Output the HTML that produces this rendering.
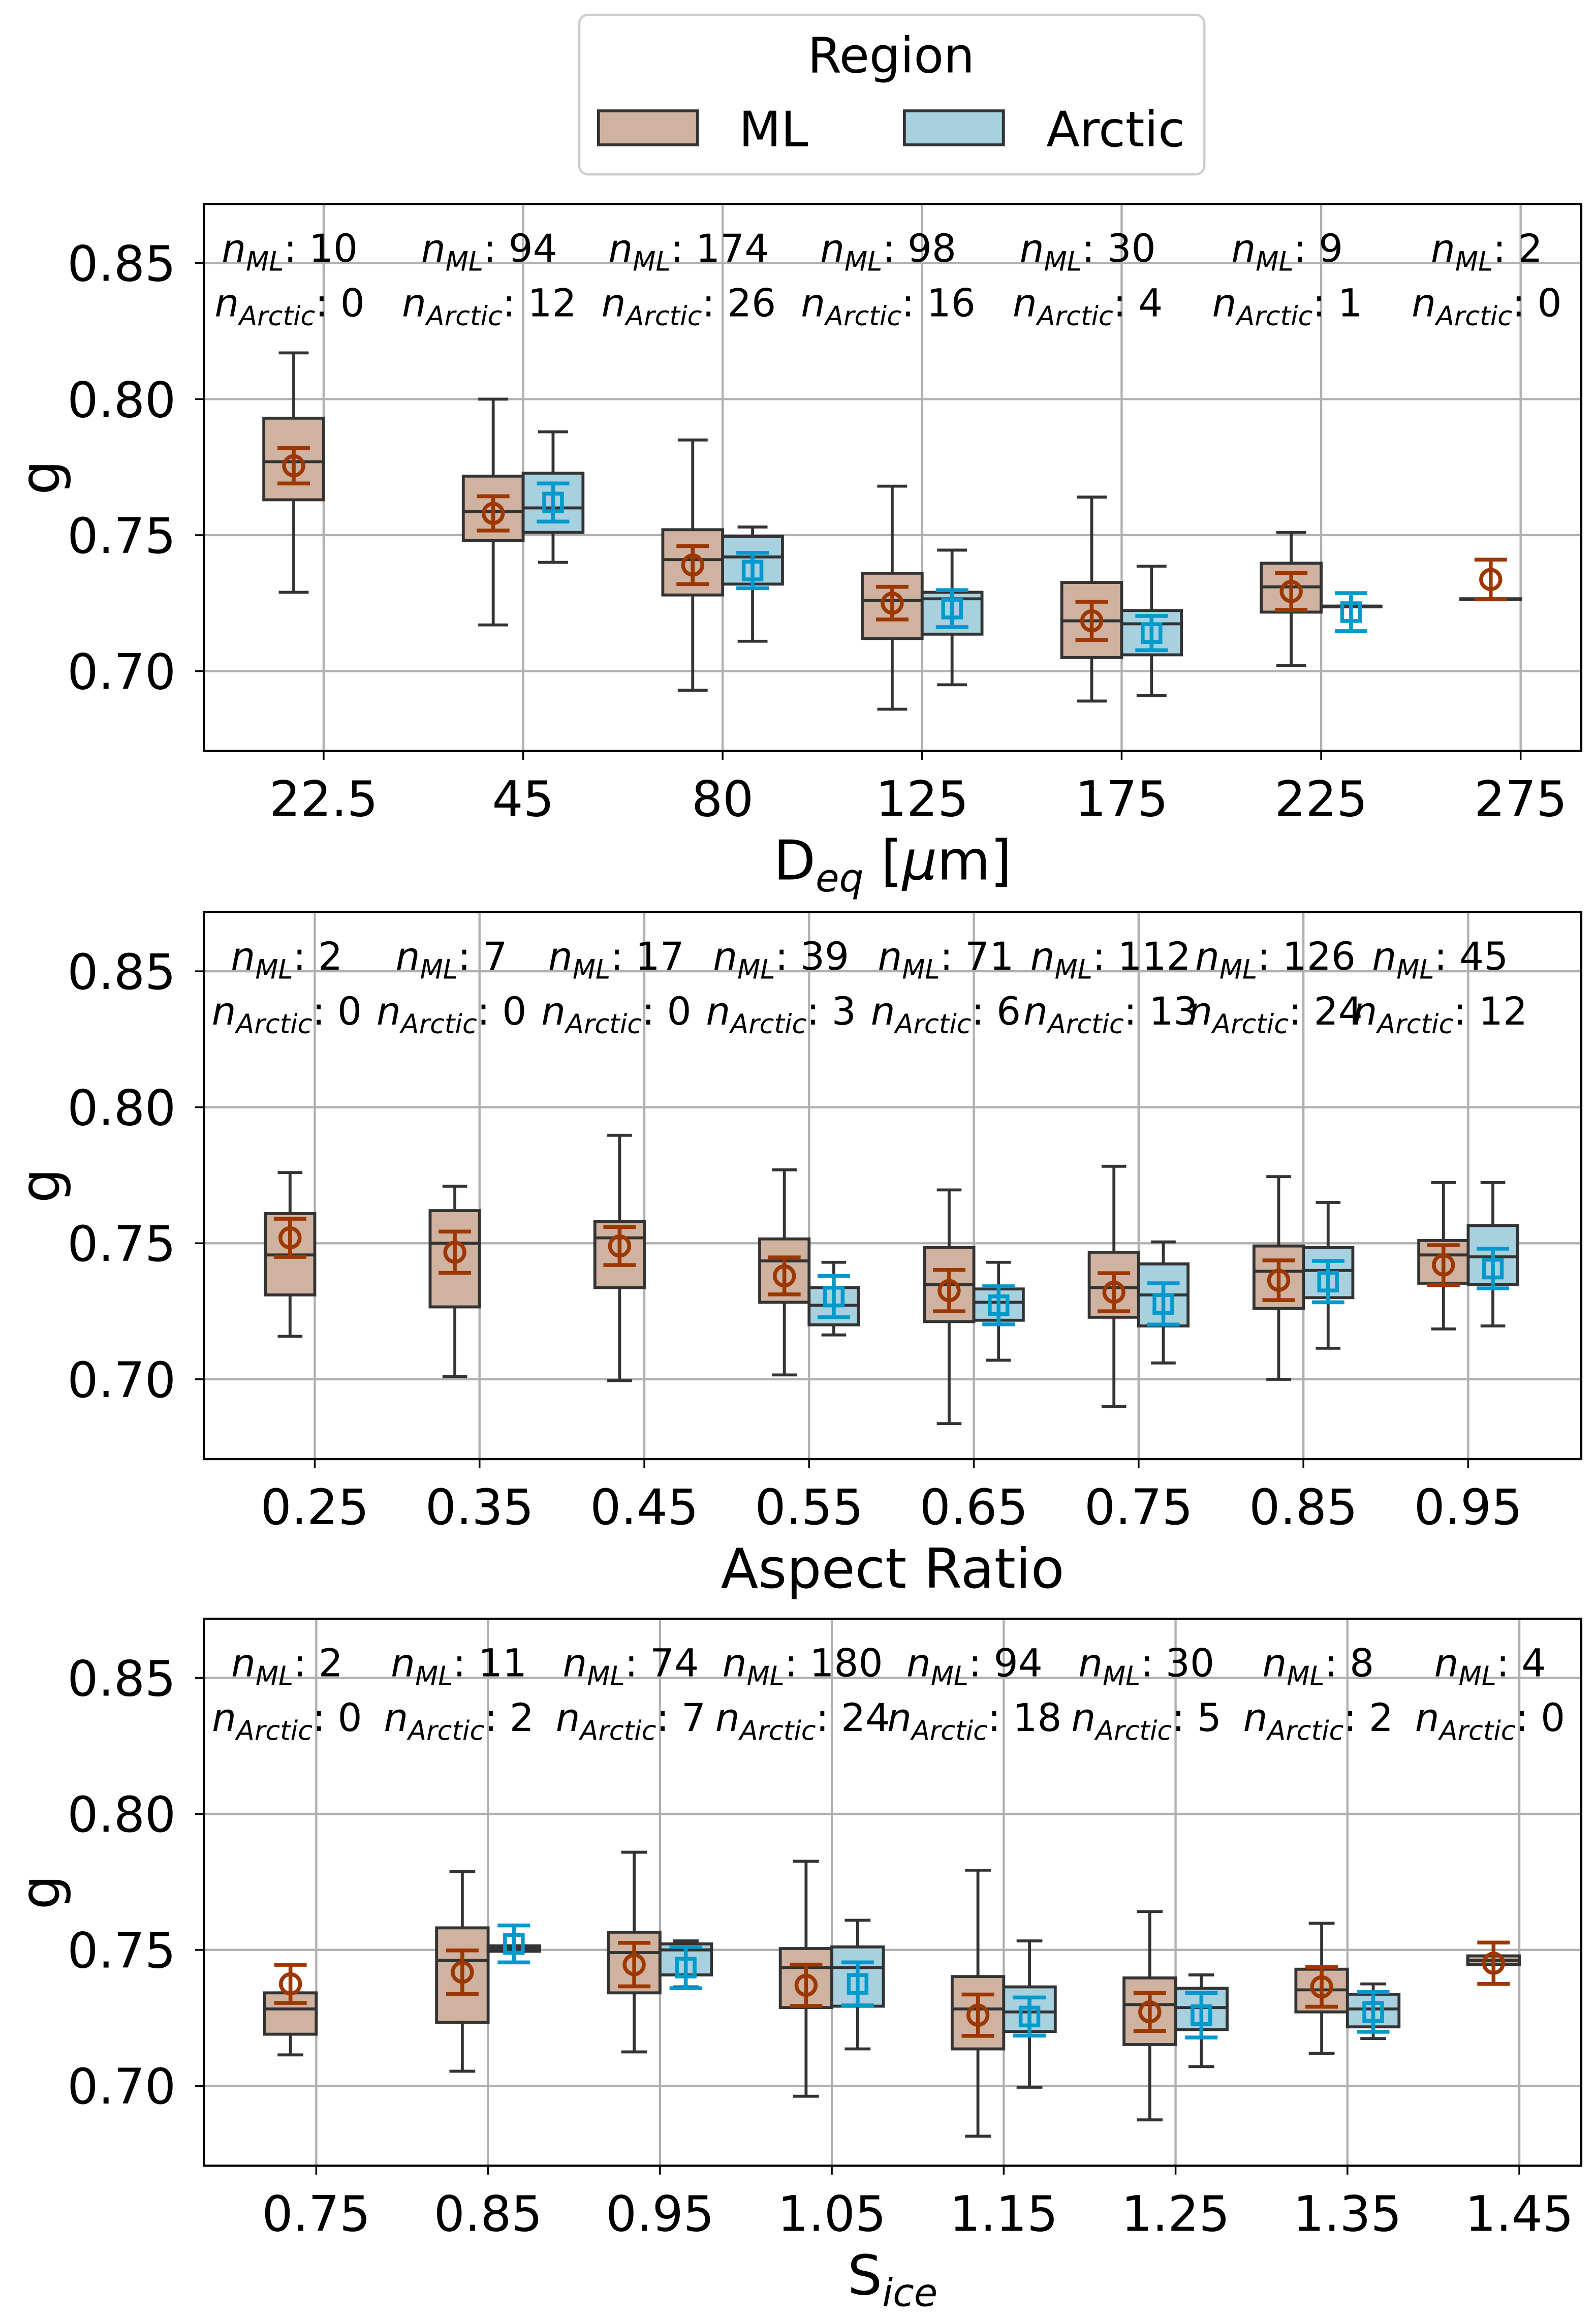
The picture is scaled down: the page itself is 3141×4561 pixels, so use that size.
<!DOCTYPE html>
<html><head><meta charset="utf-8"><style>
html,body{margin:0;padding:0;background:#fff}
svg{display:block}
text{font-family:"DejaVu Sans","Liberation Sans",sans-serif;fill:#000}
</style></head><body>
<svg id="chart" width="3141" height="4561" viewBox="0 0 1080 1568" preserveAspectRatio="none" xmlns="http://www.w3.org/2000/svg">
<g>
<rect x="392" y="10" width="423" height="108" rx="6" fill="#fff" stroke="#ccc" stroke-width="1.5"/>
<text x="603" y="49" font-size="33" text-anchor="middle">Region</text>
<rect x="405" y="75" width="67" height="23" fill="#cfb29f" stroke="#333" stroke-width="2"/>
<text x="500" y="99" font-size="33">ML</text>
<rect x="612" y="75" width="67" height="23" fill="#a8d1e0" stroke="#333" stroke-width="2"/>
<text x="708" y="99" font-size="33">Arctic</text>
</g>
</svg>
<script>
// Panel 1: D_eq
const p1Cats = ["22.5","45","80","125","175","225","275"];
const p1nML = [10,94,174,98,30,9,2];
const p1nA = [0,12,26,16,4,1,0];
// [whiskerLow, q1, median, q3, whiskerHigh]
const p1ML = [[0.729,0.763,0.777,0.793,0.817],[0.717,0.748,0.7587,0.7717,0.800],[0.693,0.728,0.741,0.752,0.785],[0.686,0.712,0.726,0.736,0.768],[0.689,0.705,0.7185,0.7326,0.764],[0.702,0.7217,0.731,0.7397,0.751],[0.7266,0.7266,0.7266,0.7266,0.7266]];
const p1A = [null,[0.740,0.751,0.760,0.7728,0.788],[0.711,0.732,0.742,0.7495,0.753],[0.695,0.7136,0.7266,0.729,0.7445],[0.691,0.706,0.7174,0.7223,0.7386],[0.7239,0.7239,0.7239,0.7239,0.7239],null];
const p1MLmean = [0.7755,0.758,0.739,0.725,0.7185,0.7293,0.7337];
const p1MLerr = [0.0065,0.0063,0.007,0.006,0.007,0.0068,0.0073];
const p1Amean = [null,0.762,0.737,0.723,0.714,0.7217,null];
const p1Aerr = [null,0.007,0.0065,0.0068,0.0063,0.007,null];
// Panel 2: Aspect Ratio
const p2Cats = ["0.25","0.35","0.45","0.55","0.65","0.75","0.85","0.95"];
const p2nML = [2,7,17,39,71,112,126,45];
const p2nA = [0,0,0,3,6,13,24,12];
const p2ML = [[0.7158,0.731,0.7457,0.7609,0.776],[0.701,0.7266,0.750,0.762,0.771],[0.6995,0.7337,0.752,0.758,0.7897],[0.7016,0.7283,0.7435,0.7516,0.777],[0.6837,0.7212,0.7348,0.7484,0.7696],[0.690,0.7228,0.7337,0.7467,0.7783],[0.700,0.726,0.7397,0.749,0.7745],[0.7185,0.7353,0.7457,0.751,0.7723]];
const p2A = [null,null,null,[0.7163,0.720,0.7272,0.7337,0.743],[0.707,0.7217,0.7283,0.7332,0.743],[0.706,0.7196,0.731,0.7424,0.7505],[0.7114,0.730,0.740,0.7484,0.765],[0.7196,0.7348,0.745,0.7565,0.7723]];
const p2MLmean = [0.752,0.7467,0.749,0.738,0.7326,0.732,0.7364,0.742];
const p2MLerr = [0.007,0.0076,0.007,0.0068,0.0076,0.007,0.0073,0.0073];
const p2Amean = [null,null,null,0.7304,0.7272,0.7277,0.7359,0.7407];
const p2Aerr = [null,null,null,0.0076,0.007,0.0076,0.0076,0.0073];
// Panel 3: S_ice
const p3Cats = ["0.75","0.85","0.95","1.05","1.15","1.25","1.35","1.45"];
const p3nML = [2,11,74,180,94,30,8,4];
const p3nA = [0,2,7,24,18,5,2,0];
const p3ML = [[0.7114,0.719,0.7283,0.7342,0.7342],[0.7054,0.7234,0.7462,0.7581,0.7788],[0.7125,0.7342,0.749,0.7565,0.7859],[0.6962,0.7288,0.7435,0.7505,0.7826],[0.6815,0.7136,0.7283,0.7402,0.7793],[0.6875,0.7152,0.7299,0.7397,0.7641],[0.712,0.7272,0.7353,0.7429,0.7598],[0.7446,0.7446,0.7462,0.7478,0.7478]];
const p3A = [null,[0.7495,0.7495,0.7505,0.7515,0.7515],[0.7364,0.7408,0.750,0.7522,0.7533],[0.7136,0.7293,0.7435,0.7511,0.7609],[0.6995,0.720,0.7272,0.7364,0.7533],[0.7071,0.7207,0.7288,0.7359,0.7408],[0.7174,0.7217,0.7283,0.7337,0.7375],null];
const p3MLmean = [0.7375,0.7418,0.7446,0.737,0.726,0.7272,0.7364,0.7451];
const p3MLerr = [0.007,0.008,0.008,0.0076,0.0076,0.007,0.0073,0.0076];
const p3Amean = [null,0.7522,0.7435,0.7375,0.7255,0.726,0.7272,null];
const p3Aerr = [null,0.0068,0.0076,0.0079,0.007,0.0082,0.0073,null];
const yTicks = [0.70,0.75,0.80,0.85];

const NS="http://www.w3.org/2000/svg";
const svg=document.getElementById('chart');
function mk(tag,attrs,parent){const e=document.createElementNS(NS,tag);for(const k in attrs)e.setAttribute(k,attrs[k]);(parent||svg).appendChild(e);return e;}

function drawPanel(cfg){
  const g=mk('g',{});
  
  
  const L=138,R=1070,T=cfg.top,B=cfg.top+370;
  const y=v=>T+40+(0.85-v)/0.05*92;
  const x=i=>cfg.x0+cfg.dx*i;
  const bw=cfg.dx*0.3;
  yTicks.forEach(t=>{
    const l=mk('line',{x1:L,x2:R,y1:y(t),y2:y(t),stroke:'#b0b0b0','stroke-width':1.5},g);
    
    
    mk('line',{x1:L-6,x2:L,y1:y(t),y2:y(t),stroke:'#000','stroke-width':1.2},g);
    const tx=mk('text',{x:L-19,y:y(t)+12,'font-size':33,'text-anchor':'end'},g);
    tx.textContent=t.toFixed(2);
    
    
  });
  cfg.cats.forEach((c,i)=>{
    const l=mk('line',{x1:x(i),x2:x(i),y1:T,y2:B,stroke:'#b0b0b0','stroke-width':1.5},g);
    
    
    mk('line',{x1:x(i),x2:x(i),y1:B,y2:B+6,stroke:'#000','stroke-width':1.2},g);
    const tx=mk('text',{x:x(i),y:B+44,'font-size':33,'text-anchor':'middle'},g);
    tx.textContent=c;
    
    
  });
  function box(st,cx,fill,name){
    if(!st)return;
    const bg=mk('g',{},g);
    
    
    const s='#333',w=2;
    mk('line',{x1:cx,x2:cx,y1:y(st[4]),y2:y(st[3]),stroke:s,'stroke-width':w},bg);
    mk('line',{x1:cx,x2:cx,y1:y(st[1]),y2:y(st[0]),stroke:s,'stroke-width':w},bg);
    mk('line',{x1:cx-bw/4,x2:cx+bw/4,y1:y(st[4]),y2:y(st[4]),stroke:s,'stroke-width':w},bg);
    mk('line',{x1:cx-bw/4,x2:cx+bw/4,y1:y(st[0]),y2:y(st[0]),stroke:s,'stroke-width':w},bg);
    mk('rect',{x:cx-bw/2,y:y(st[3]),width:bw,height:Math.max(y(st[1])-y(st[3]),0.5),fill:fill,stroke:s,'stroke-width':w},bg);
    mk('line',{x1:cx-bw/2,x2:cx+bw/2,y1:y(st[2]),y2:y(st[2]),stroke:s,'stroke-width':w},bg);
  }
  function mean(m,e,cx,col,shape,name){
    if(m==null)return;
    const mg=mk('g',{},g);
    
    
    const sw=2.6,cw=11;
    mk('line',{x1:cx,x2:cx,y1:y(m+e),y2:y(m-e),stroke:col,'stroke-width':sw},mg);
    mk('line',{x1:cx-cw,x2:cx+cw,y1:y(m+e),y2:y(m+e),stroke:col,'stroke-width':sw},mg);
    mk('line',{x1:cx-cw,x2:cx+cw,y1:y(m-e),y2:y(m-e),stroke:col,'stroke-width':sw},mg);
    if(shape==='o')mk('circle',{cx:cx,cy:y(m),r:6.5,fill:'none',stroke:col,'stroke-width':sw},mg);
    else mk('rect',{x:cx-6,y:y(m)-6,width:12,height:12,fill:'none',stroke:col,'stroke-width':sw},mg);
  }
  cfg.cats.forEach((c,i)=>{
    const cm=x(i)-bw/2, ca=x(i)+bw/2;
    box(cfg.ml[i],cm,'#cfb29f','box-ml-'+c);
    box(cfg.a[i],ca,'#a8d1e0','box-arctic-'+c);
    mean(cfg.mlMean[i],cfg.mlErr[i],cm,'#9c3700','o','mean-ml-'+c);
    mean(cfg.aMean[i],cfg.aErr[i],ca,'#0099cc','s','mean-arctic-'+c);
    const ax=x(i)-0.17*cfg.dx;
    const t1=mk('text',{x:ax,y:T+39,'font-size':26,'text-anchor':'middle'},g);
    
    
    t1.innerHTML='<tspan font-style="italic">n</tspan><tspan font-style="italic" font-size="18" dy="6">ML</tspan><tspan dy="-6">: '+cfg.nML[i]+'</tspan>';
    const t2=mk('text',{x:ax,y:T+76,'font-size':26,'text-anchor':'middle'},g);
    
    
    t2.innerHTML='<tspan font-style="italic">n</tspan><tspan font-style="italic" font-size="18" dy="6">Arctic</tspan><tspan dy="-6">: '+cfg.nA[i]+'</tspan>';
  });
  const fr=mk('rect',{x:L,y:T,width:R-L,height:B-T,fill:'none',stroke:'#000','stroke-width':1.5},g);
  
  
  const yl=mk('text',{x:0,y:0,'font-size':37,'text-anchor':'middle',transform:'translate(40,'+(T+185)+') rotate(-90)'},g);
  yl.textContent='g';
  
  
  const xl=mk('text',{x:604,y:B+87,'font-size':37,'text-anchor':'middle'},g);
  xl.innerHTML=cfg.xlabel;
  
  
}
drawPanel({name:'panel-deq',top:138,x0:219,dx:135,cats:p1Cats,nML:p1nML,nA:p1nA,ml:p1ML,a:p1A,mlMean:p1MLmean,mlErr:p1MLerr,aMean:p1Amean,aErr:p1Aerr,xlabel:'D<tspan font-style="italic" font-size="26" dy="8">eq</tspan><tspan dy="-8"> [</tspan><tspan font-style="italic">μ</tspan>m]'});
drawPanel({name:'panel-aspect-ratio',top:617,x0:213,dx:111.5,cats:p2Cats,nML:p2nML,nA:p2nA,ml:p2ML,a:p2A,mlMean:p2MLmean,mlErr:p2MLerr,aMean:p2Amean,aErr:p2Aerr,xlabel:'Aspect Ratio'});
drawPanel({name:'panel-sice',top:1095,x0:214,dx:116.3,cats:p3Cats,nML:p3nML,nA:p3nA,ml:p3ML,a:p3A,mlMean:p3MLmean,mlErr:p3MLerr,aMean:p3Amean,aErr:p3Aerr,xlabel:'S<tspan font-style="italic" font-size="26" dy="8">ice</tspan>'});
</script>
</body></html>
